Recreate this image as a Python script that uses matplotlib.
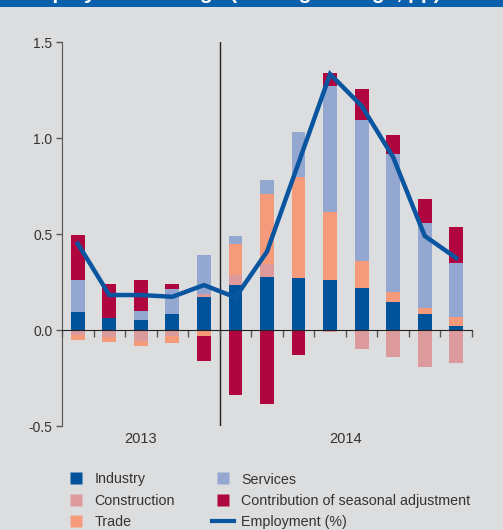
import matplotlib
matplotlib.use("Agg")
import matplotlib.pyplot as plt
from matplotlib.lines import Line2D
from matplotlib.patches import Rectangle
import numpy as np

plt.rcParams['font.family'] = ['Liberation Sans', 'DejaVu Sans']

# quarterly contributions, pp (2013 Q1 .. 2014 Q4, 13 periods as drawn)
industry = [0.094, 0.063, 0.052, 0.083, 0.172, 0.234, 0.276, 0.271, 0.260, 0.219, 0.146, 0.083, 0.021]
construction = [-0.028, -0.038, -0.057, -0.031, 0.016, 0.052, 0.068, 0.0, -0.010, -0.099, -0.141, -0.193, -0.172]
trade = [-0.022, -0.022, -0.025, -0.035, -0.030, 0.164, 0.364, 0.526, 0.355, 0.140, 0.052, 0.032, 0.047]
services = [0.166, 0.0, 0.047, 0.130, 0.202, 0.040, 0.072, 0.234, 0.655, 0.735, 0.719, 0.442, 0.281]
seasonal = [0.235, 0.177, 0.161, 0.027, -0.130, -0.338, -0.385, -0.130, 0.068, 0.161, 0.099, 0.125, 0.187]
employment = [0.45, 0.182, 0.182, 0.173, 0.234, 0.17, 0.408, 0.87, 1.333, 1.167, 0.90, 0.49, 0.375]

years = ['2013', '2014']
n_2013 = 5

series = [
    ('Industry', industry, '#00529b'),
    ('Construction', construction, '#dd9a9d'),
    ('Trade', trade, '#f59a7a'),
    ('Services', services, '#93a7d1'),
    ('Contribution of seasonal adjustment', seasonal, '#b0063f'),
]
line_color = '#0a55a0'
bg = '#dcdddf'
text_col = '#333333'

fig = plt.figure(figsize=(5.03, 5.30), dpi=100, facecolor=bg)
ax = fig.add_axes([62 / 503, 1 - 426 / 530, 410 / 503, 384 / 530])
ax.set_facecolor(bg)

# header band; the title sits mostly above the crop, as in the source
fig.patches.append(Rectangle((0, 1 - 7 / 530), 1, 7 / 530, transform=fig.transFigure,
                             facecolor='#0a60ab', edgecolor='none', zorder=0))
fig.text(20 / 503, 1 + 1.0 / 530, 'Employment change (moving average, pp)', color='white',
         fontsize=15, fontweight='bold', va='baseline', ha='left')

x = np.arange(len(industry))
pos = np.zeros(len(x))
neg = np.zeros(len(x))
handles = []
for name, vals, col in series:
    v = np.array(vals)
    base = np.where(v >= 0, pos, neg)
    ax.bar(x, v, 0.44, bottom=base, color=col, zorder=2)
    pos = pos + np.clip(v, 0, None)
    neg = neg + np.clip(v, None, 0)
    handles.append(Line2D([], [], marker='s', linestyle='none', markersize=8,
                          markerfacecolor=col, markeredgecolor='none', label=name))

ax.plot(x, employment, color=line_color, lw=3.2, zorder=4, solid_joinstyle='miter')
handles.append(Line2D([], [], color=line_color, lw=3, label='Employment (%)'))

ax.set_xlim(-0.5, len(x) - 0.5)
ax.set_ylim(-0.5, 1.5)
ax.set_yticks([-0.5, 0.0, 0.5, 1.0, 1.5])
ax.set_yticklabels(['-0.5', '0.0', '0.5', '1.0', '1.5'])
ax.tick_params(axis='y', direction='out', length=4, width=1, color='#555555',
               labelsize=10, labelcolor=text_col, pad=3)

# zero axis with category separators
ax.spines['bottom'].set_position(('data', 0))
ax.spines['bottom'].set_color('#222222')
ax.spines['bottom'].set_zorder(5)
ax.set_xticks(np.arange(-0.5, len(x), 1.0))
ax.set_xticklabels([])
ax.tick_params(axis='x', direction='out', length=5, width=1, color='#555555')
for s in ['top', 'right']:
    ax.spines[s].set_visible(False)
ax.spines['left'].set_color('#555555')

ax.axvline(n_2013 - 0.5, color='#222222', lw=1, zorder=1)

centers = [(n_2013 - 1) / 2, (n_2013 + len(x) - 1) / 2]
for yr, cx in zip(years, centers):
    ax.text(cx, -0.034, yr, transform=ax.get_xaxis_transform(), ha='center', va='center',
            fontsize=10.5, color=text_col)

fig.legend(handles=handles, ncol=2, loc='upper left', bbox_to_anchor=(65 / 503, 1 - 472.5 / 530),
           frameon=False, fontsize=10.3, handlelength=1.55, handletextpad=0.5,
           columnspacing=2.6, labelspacing=0.5, borderpad=0, borderaxespad=0,
           labelcolor=text_col)

fig.savefig('out.png', dpi=100, facecolor=bg)
